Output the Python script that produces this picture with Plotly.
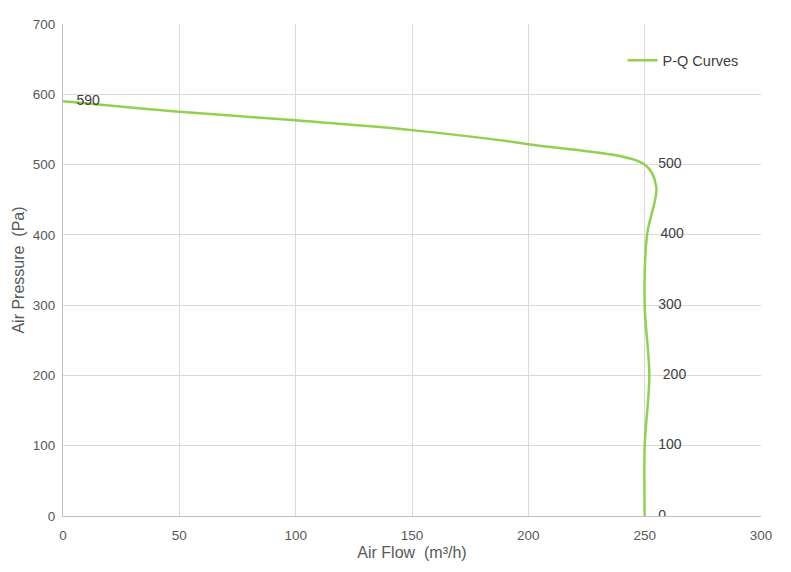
import plotly.graph_objects as go

# P-Q curve points (air flow m3/h, air pressure Pa)
flow = [0, 50, 100, 150, 200, 250, 255, 251, 250, 252, 250, 250]
pressure = [590, 575, 563, 549, 529, 500, 468, 400, 300, 200, 100, 0]
point_labels = ["590", "", "", "", "", "500", "", "400", "300", "200", "100", "0"]

x_ticks = [0, 50, 100, 150, 200, 250, 300]
y_ticks = [0, 100, 200, 300, 400, 500, 600, 700]

green = "#92d050"
font = "Liberation Sans, Arial, sans-serif"

fig = go.Figure()

fig.add_trace(go.Scatter(
    x=flow, y=pressure,
    mode="lines",
    line=dict(color=green, width=2.5, shape="spline", smoothing=0.9),
    name="P-Q Curves",
))

# point value labels (invisible markers push the text off the line)
fig.add_trace(go.Scatter(
    x=flow, y=pressure,
    mode="markers+text",
    marker=dict(size=20, opacity=0),
    text=point_labels,
    textposition="middle right",
    textfont=dict(family=font, size=14, color="#404040"),
    showlegend=False,
    hoverinfo="skip",
))

fig.update_layout(
    width=783, height=564,
    margin=dict(l=55, r=30, t=9, b=56),
    paper_bgcolor="white",
    plot_bgcolor="white",
    font=dict(family=font, size=13.5, color="#595959"),
    legend=dict(
        x=0.975, y=0.926, xanchor="right", yanchor="middle",
        bgcolor="rgba(255,255,255,0)",
        font=dict(family=font, size=14.5, color="#404040"),
    ),
)

fig.update_xaxes(
    range=[0, 300], tickvals=x_ticks,
    showgrid=True, gridcolor="#d9d9d9", gridwidth=1,
    showline=True, linecolor="#bfbfbf", linewidth=1,
    zeroline=False, ticks="", ticklen=0, ticklabelstandoff=7,
    title=dict(text="Air Flow  (m³/h)", font=dict(size=16, color="#595959"), standoff=4),
)
fig.update_yaxes(
    range=[0, 700], tickvals=y_ticks,
    showgrid=True, gridcolor="#d9d9d9", gridwidth=1,
    showline=True, linecolor="#bfbfbf", linewidth=1,
    zeroline=False, ticks="", ticklen=0, ticklabelstandoff=4,
    title=dict(text="Air Pressure  (Pa)", font=dict(size=16, color="#595959"), standoff=4),
)

fig.write_html("out.html")
